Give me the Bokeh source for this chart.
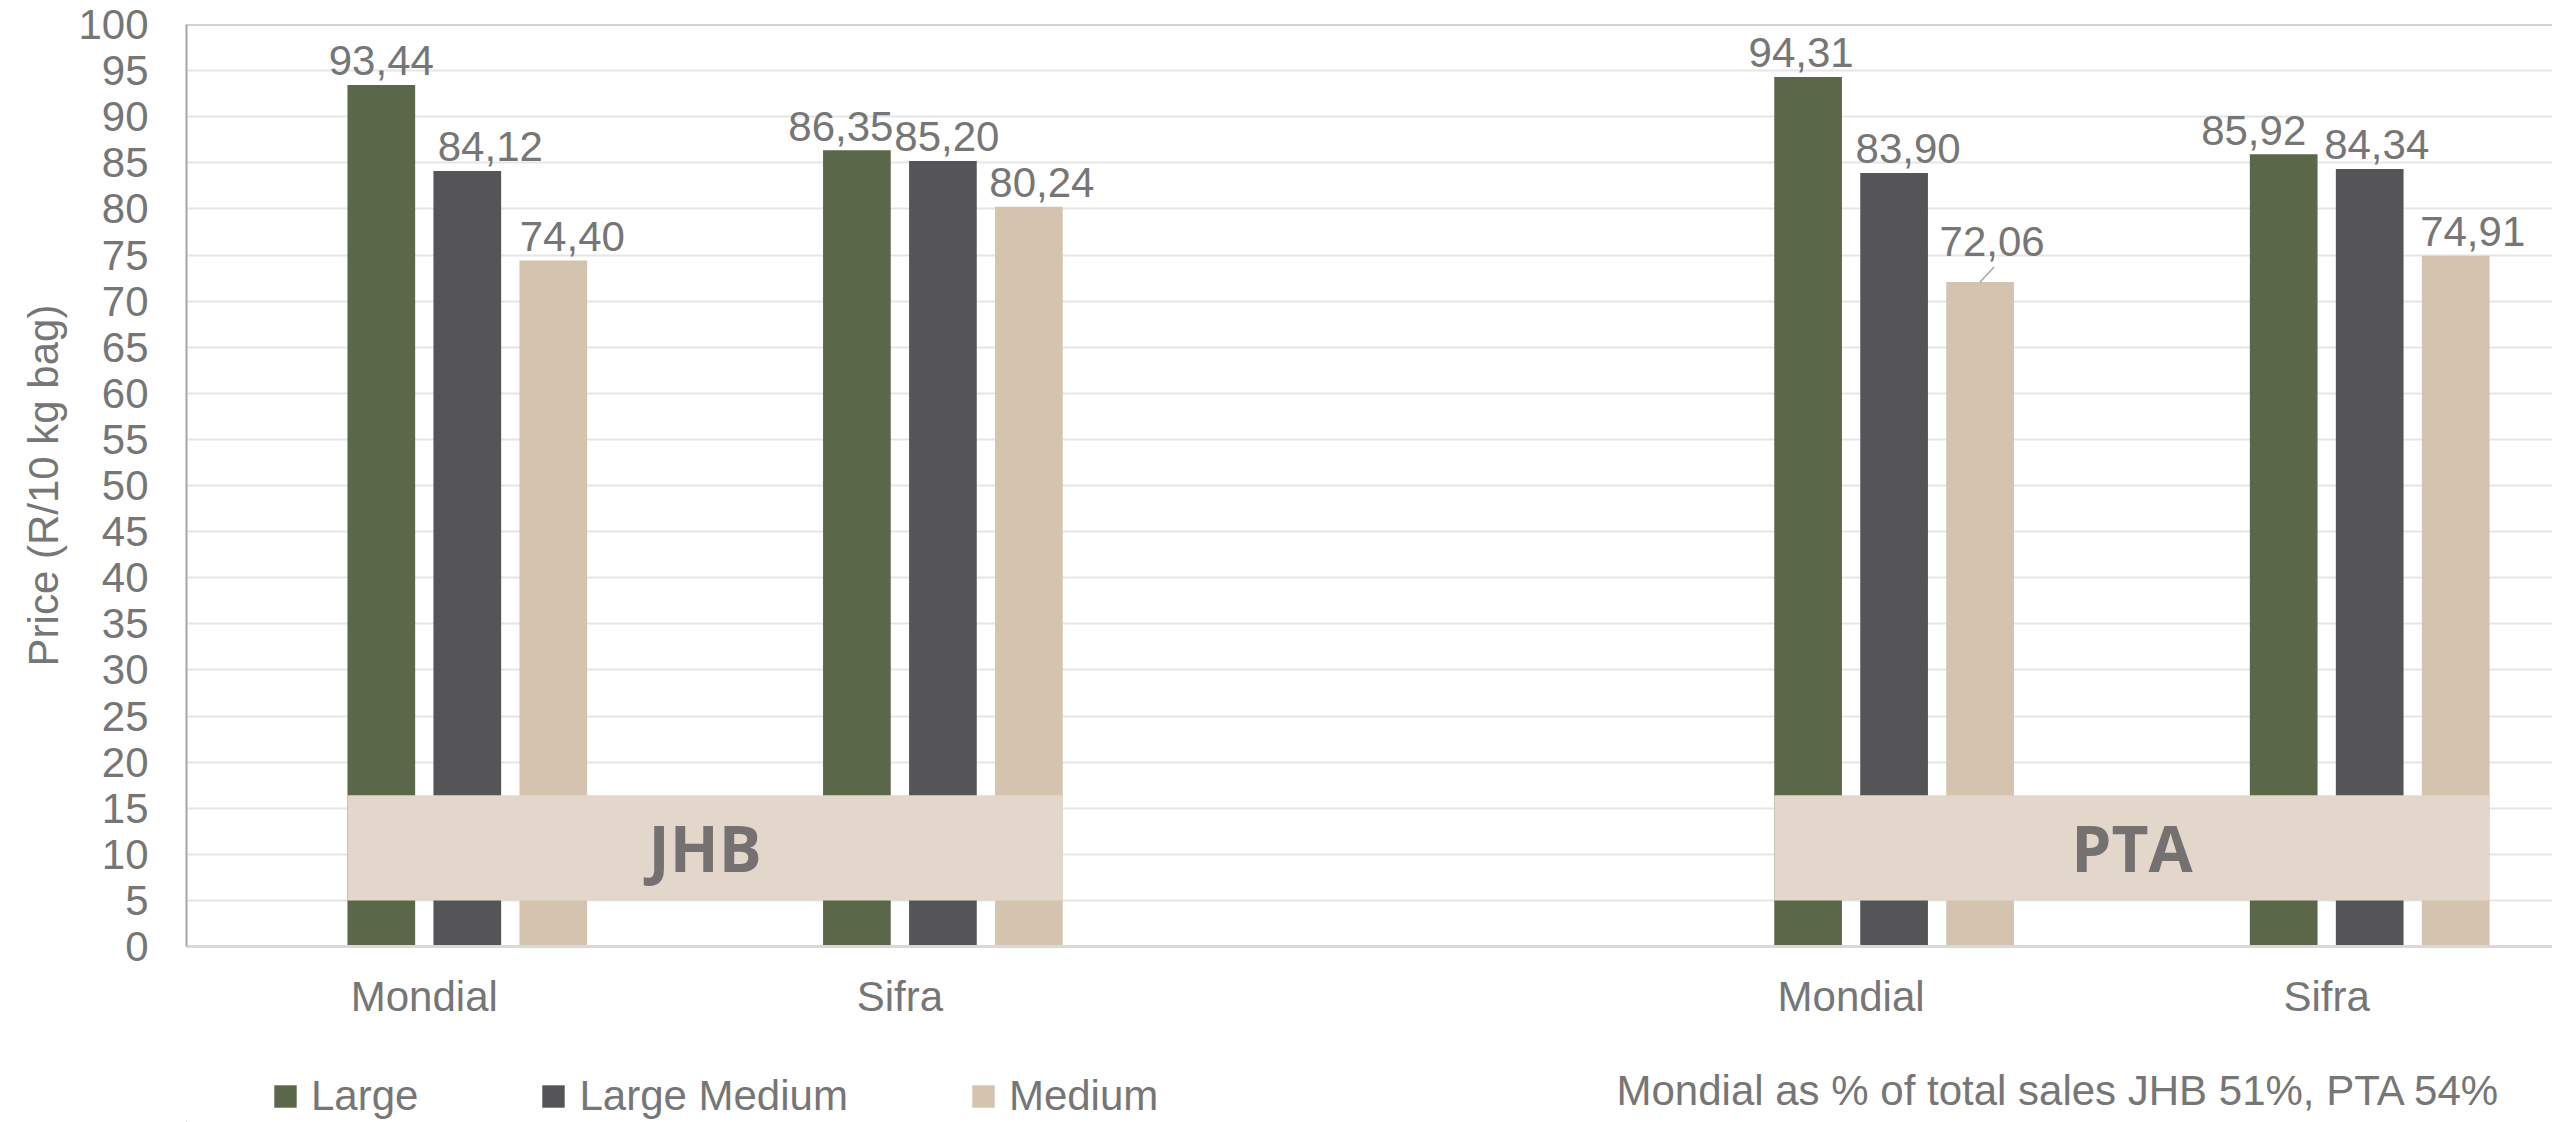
from bokeh.plotting import figure
from bokeh.layouts import column
from bokeh.models import ColumnDataSource, Range1d, FixedTicker, Legend, LegendItem, Label, Span
from bokeh.core.properties import value
from bokeh.embed import file_html
from bokeh.resources import INLINE

# ---------------- data ----------------
regions = ["JHB", "JHB", "PTA", "PTA"]
cultivars = ["Mondial", "Sifra", "Mondial", "Sifra"]
series_names = ["Large", "Large Medium", "Medium"]
large = [93.44, 86.35, 94.31, 85.92]
large_medium = [84.12, 85.20, 83.90, 84.34]
medium = [74.40, 80.24, 72.06, 74.91]
y_ticks = list(range(0, 101, 5))
y_title = "Price (R/10 kg bag)"
note_text = "Mondial as % of total sales JHB 51%, PTA 54%"
region_names = ["JHB", "PTA"]

# ---------------- style / layout ----------------
colors = ["#5A6849", "#555557", "#D4C3AE"]
box_fill = "#E2D7CA"
text_color = "#767676"
font = "Liberation Sans"
fs = "42px"

TOTAL_W, TOTAL_H = 2552, 1122
LEFT, TOP = 186, 24
FRAME_W, FRAME_H = TOTAL_W - LEFT, 922
MAIN_H = 1030
LEG_H = TOTAL_H - MAIN_H
CAT_PX = 475.6
X_END = FRAME_W / CAT_PX
PX_PER_Y = FRAME_H / 100.0
pitch = 86.0 / CAT_PX
bar_w = 67.7 / CAT_PX
offsets = [-0.5 * pitch, 0.5 * pitch, 1.5 * pitch]  # 4-series cluster, first series empty
# data-label screen offsets (px) of the text centre, per series per category
label_dx = [[0, -16, -7, -30], [23, 4, 14, 7], [19, 13, 12, 17]]
label_dy = [[-24, -24, -24, -24], [-24, -24, -24, -24], [-24, -24, -41, -24]]
BOX_BOTTOM, BOX_TOP = 5.0, 16.4

# category slot centres: a blank slot between the two regions
slots = []
for i, r in enumerate(regions):
    slots.append(i + region_names.index(r) + 0.5)

p = figure(width=TOTAL_W, height=MAIN_H,
           x_range=Range1d(0, X_END), y_range=Range1d(0, 100),
           output_backend="svg", toolbar_location=None, title=None,
           min_border_left=LEFT, min_border_right=0, min_border_top=TOP,
           min_border_bottom=MAIN_H - TOP - FRAME_H)
p.outline_line_color = None
p.background_fill_color = "white"

series_vals = [large, large_medium, medium]
for s, (name, vals) in enumerate(zip(series_names, series_vals)):
    xs = [c + offsets[s] for c in slots]
    src = ColumnDataSource(dict(x=xs, top=vals, cat=cultivars, region=regions))
    p.vbar(x="x", top="top", bottom=0, width=bar_w, source=src,
           fill_color=colors[s], line_color=None)
    lab = ColumnDataSource(dict(x=xs, y=vals,
                                t=[f"{v:.2f}".replace(".", ",") for v in vals],
                                dx=label_dx[s], dy=label_dy[s]))
    p.text(x="x", y="y", text="t", x_offset="dx", y_offset="dy", source=lab,
           text_font=value(font), text_font_size=fs, text_color=text_color,
           text_align="center", text_baseline="middle")

# leader line for the displaced label (medium, PTA Mondial)
lx = slots[2] + offsets[2]
ly = medium[2]
p.segment(x0=[lx], y0=[ly], x1=[lx + 14 / CAT_PX], y1=[ly + 15 / PX_PER_Y],
          line_color="#A6A6A6", line_width=1.5)

# region boxes spanning their bars
bl, br, bc = [], [], []
for rn in region_names:
    idx = [i for i, r in enumerate(regions) if r == rn]
    left = min(slots[i] for i in idx) + offsets[0] - bar_w / 2
    right = max(slots[i] for i in idx) + offsets[2] + bar_w / 2
    bl.append(left); br.append(right); bc.append((left + right) / 2)
box_src = ColumnDataSource(dict(left=bl, right=br, xc=bc, name=region_names,
                                bottom=[BOX_BOTTOM] * 2, top=[BOX_TOP] * 2,
                                yc=[(BOX_BOTTOM + BOX_TOP) / 2] * 2))
p.quad(left="left", right="right", bottom="bottom", top="top", source=box_src,
       fill_color=box_fill, line_color=None)
p.text(x="xc", y="yc", text="name", source=box_src, text_font=value("Open Sans"),
       text_font_style="bold", text_font_size="64px", text_color="#767171",
       text_align="center", text_baseline="middle")

# axes
p.yaxis.ticker = FixedTicker(ticks=y_ticks)
p.ygrid.ticker = FixedTicker(ticks=y_ticks)
p.ygrid.grid_line_color = "#E6E6E6"
p.ygrid.grid_line_width = 2
p.xgrid.grid_line_color = None
p.yaxis.major_tick_line_color = None
p.yaxis.minor_tick_line_color = None
p.yaxis.major_tick_out = 0
p.yaxis.major_tick_in = 0
p.yaxis.axis_line_color = "#A6A6A6"
p.yaxis.axis_line_width = 2
p.yaxis.major_label_standoff = 38
p.yaxis.major_label_text_font = font
p.yaxis.major_label_text_font_size = fs
p.yaxis.major_label_text_color = text_color
p.yaxis.axis_label = y_title
p.yaxis.axis_label_text_font = font
p.yaxis.axis_label_text_font_size = fs
p.yaxis.axis_label_text_font_style = "normal"
p.yaxis.axis_label_text_color = text_color
p.yaxis.axis_label_standoff = 8

p.xaxis.ticker = FixedTicker(ticks=slots)
p.xaxis.major_label_overrides = {s: c for s, c in zip(slots, cultivars)}
p.xaxis.major_tick_line_color = None
p.xaxis.minor_tick_line_color = None
p.xaxis.major_tick_out = 0
p.xaxis.major_tick_in = 0
p.xaxis.axis_line_color = "#D9D9D9"
p.xaxis.axis_line_width = 3
p.xaxis.major_label_standoff = 26
p.xaxis.major_label_text_font = font
p.xaxis.major_label_text_font_size = fs
p.xaxis.major_label_text_color = text_color

p.add_layout(Span(location=100, dimension="width", line_color="#A6A6A6", line_width=2))

# ---------------- bottom strip: legend and note (x in page pixels) ----------------
q = figure(width=TOTAL_W, height=LEG_H, x_range=Range1d(LEFT, TOTAL_W), y_range=Range1d(0, LEG_H),
           output_backend="svg", toolbar_location=None, title=None,
           x_axis_location=None, y_axis_location=None,
           min_border_left=LEFT, min_border_right=0, min_border_top=0, min_border_bottom=0)
q.outline_line_color = None
q.xgrid.grid_line_color = None
q.ygrid.grid_line_color = None

leg_renderers = []
for s, name in enumerate(series_names):
    # legend swatches only: the single point lies outside the strip's visible range
    r = q.vbar(x=[-1000], top=[1], bottom=0, width=1, fill_color=colors[s], line_color=None)
    leg_renderers.append(r)

legend = Legend(items=[LegendItem(label=n, renderers=[r]) for n, r in zip(series_names, leg_renderers)],
                orientation="horizontal", location=(271 - LEFT, 2),
                glyph_width=28, glyph_height=28, label_standoff=12, spacing=121,
                padding=0, margin=0, border_line_color=None, background_fill_alpha=0,
                label_text_font=font, label_text_font_size=fs, label_text_color=text_color,
                label_height=48)
q.add_layout(legend, "center")

q.add_layout(Label(x=1616, y=32, text=note_text,
                   text_font=font, text_font_size=fs, text_color=text_color,
                   text_align="left", text_baseline="middle"))

layout = column(p, q, spacing=0)
open("out.html", "w").write(file_html(layout, INLINE))
